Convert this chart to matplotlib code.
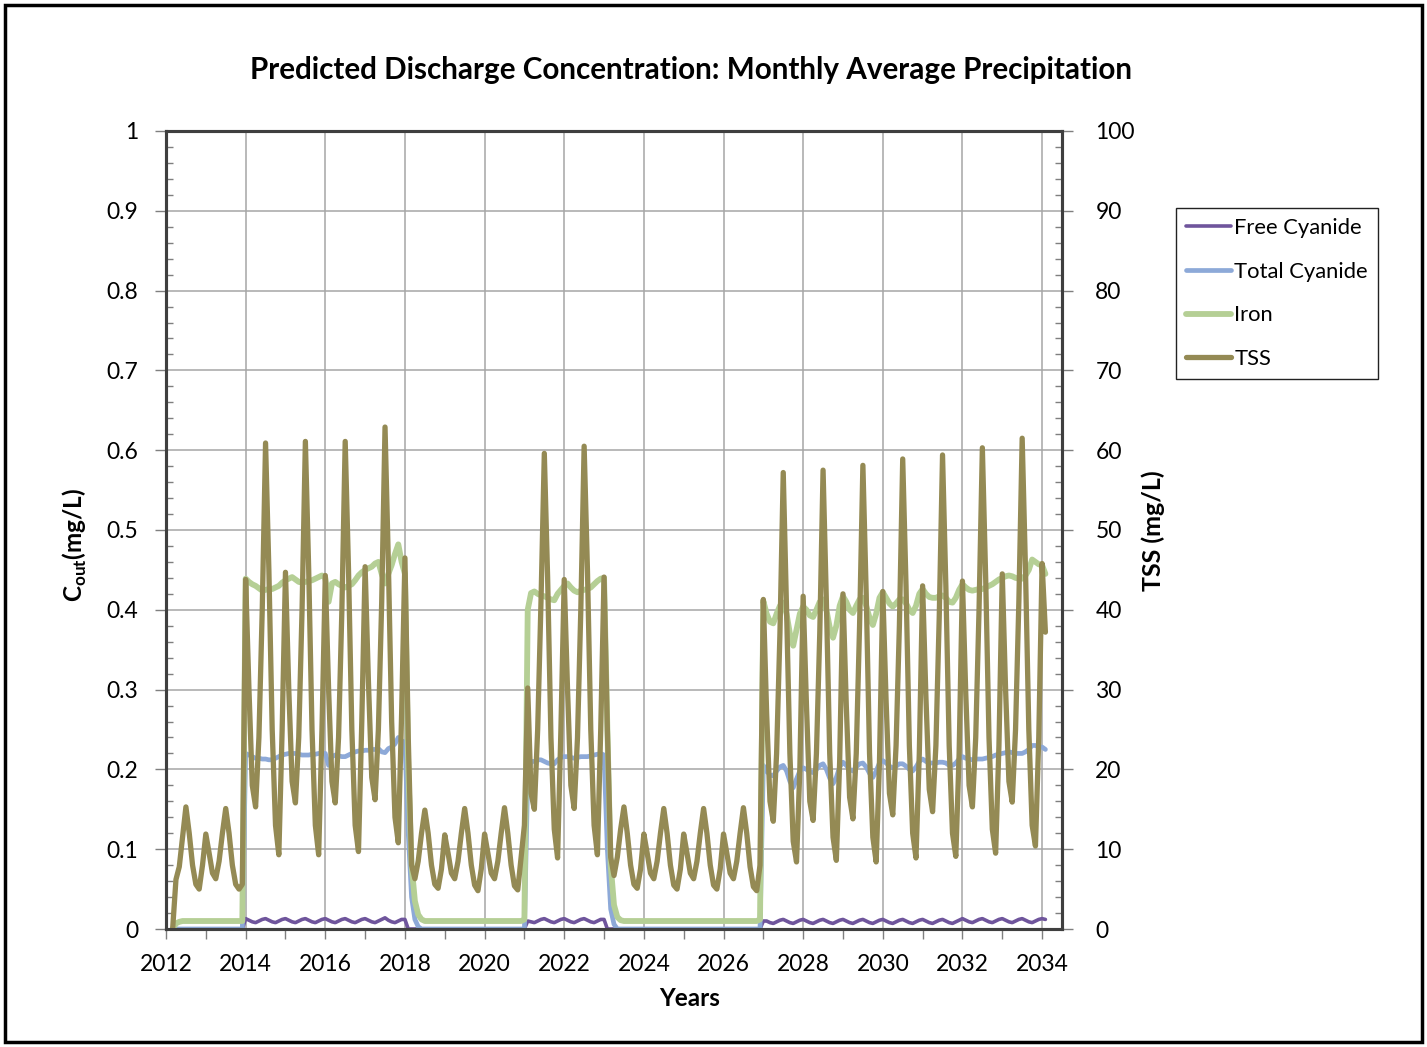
import pandas as pd
import matplotlib
matplotlib.use("Agg")
import matplotlib.pyplot as plt
from matplotlib.patches import Rectangle
from matplotlib.ticker import MultipleLocator, FormatStrFormatter

# Monthly model output, first value is March 2012
START_MONTH = "2012-03-01"

# TSS (mg/L), secondary axis
tss = [
    0.0, 6.2, 7.8, 11.5, 15.3, 12.0, 8.0, 5.6, 5.0, 8.0,                    # 2012 (Mar-Dec)
    11.9, 9.5, 7.0, 6.3, 8.5, 12.0, 15.1, 12.0, 8.0, 5.6, 5.0, 5.6,         # 2013
    43.8, 30.0, 18.0, 15.3, 24.0, 40.0, 60.9, 45.0, 25.0, 13.0, 9.3, 25.0,  # 2014
    44.7, 30.0, 18.5, 15.8, 24.0, 40.0, 61.1, 45.0, 25.0, 13.0, 9.3, 25.0,  # 2015
    44.3, 30.0, 18.5, 15.8, 24.0, 40.0, 61.1, 45.0, 25.0, 13.0, 9.7, 26.0,  # 2016
    45.4, 31.0, 19.0, 16.2, 25.0, 41.0, 62.9, 46.0, 26.0, 14.0, 10.8, 27.0, # 2017
    46.5, 24.0, 8.0, 6.3, 8.5, 12.0, 14.9, 12.0, 8.0, 5.6, 5.1, 7.5,        # 2018
    11.8, 9.5, 7.0, 6.3, 8.5, 12.0, 15.1, 12.0, 8.0, 5.5, 4.8, 7.5,         # 2019
    11.9, 9.5, 7.0, 6.3, 8.5, 12.0, 15.2, 12.0, 8.0, 5.4, 4.9, 9.0,         # 2020
    13.0, 30.2, 17.0, 15.0, 25.0, 41.0, 59.6, 44.0, 24.0, 12.5, 8.9, 25.0,  # 2021
    43.8, 30.0, 18.0, 15.1, 24.0, 40.0, 60.5, 45.0, 25.0, 13.0, 9.3, 25.0,  # 2022
    44.1, 25.0, 9.0, 6.7, 9.0, 12.5, 15.3, 12.0, 8.0, 5.6, 5.1, 7.5,        # 2023
    11.9, 9.5, 7.0, 6.3, 8.5, 12.0, 15.1, 12.0, 8.0, 5.5, 5.0, 7.5,         # 2024
    11.9, 9.5, 7.0, 6.3, 8.5, 12.0, 15.1, 12.0, 8.0, 5.5, 5.0, 7.5,         # 2025
    11.9, 9.5, 7.0, 6.3, 8.5, 12.0, 15.2, 12.0, 7.8, 5.3, 4.8, 8.0,         # 2026
    41.3, 27.0, 16.0, 13.5, 22.0, 37.0, 57.2, 40.0, 22.0, 11.0, 8.4, 20.0,  # 2027
    41.7, 28.0, 16.0, 13.6, 22.0, 37.0, 57.5, 41.0, 22.0, 11.5, 8.6, 21.0,  # 2028
    42.0, 28.0, 16.5, 13.8, 22.0, 38.0, 58.1, 42.0, 22.0, 11.5, 8.4, 21.0,  # 2029
    42.3, 28.5, 17.0, 14.3, 23.0, 38.0, 58.9, 43.0, 23.0, 12.0, 8.9, 22.0,  # 2030
    43.0, 29.0, 17.5, 14.7, 23.0, 39.0, 59.4, 43.0, 23.0, 12.0, 9.1, 22.0,  # 2031
    43.6, 29.5, 18.0, 15.3, 24.0, 40.0, 60.3, 44.0, 24.0, 12.5, 9.5, 23.0,  # 2032
    44.5, 30.0, 18.5, 15.9, 25.0, 41.0, 61.5, 45.0, 25.0, 13.0, 10.4, 24.0, # 2033
    45.8, 37.2,                                                             # 2034 (Jan-Feb)
]

# Iron (mg/L), primary axis
iron = [
    0.000, 0.007, 0.009, 0.010, 0.010, 0.010, 0.010, 0.010, 0.010, 0.010,                # 2012
    0.010, 0.010, 0.010, 0.010, 0.010, 0.010, 0.010, 0.010, 0.010, 0.010, 0.010, 0.010,  # 2013
    0.439, 0.435, 0.432, 0.430, 0.427, 0.424, 0.425, 0.426, 0.426, 0.428, 0.430, 0.434,  # 2014
    0.437, 0.439, 0.441, 0.438, 0.435, 0.434, 0.435, 0.436, 0.437, 0.439, 0.441, 0.443,  # 2015
    0.440, 0.410, 0.433, 0.435, 0.432, 0.430, 0.428, 0.430, 0.432, 0.437, 0.443, 0.447,  # 2016
    0.450, 0.452, 0.454, 0.458, 0.460, 0.445, 0.433, 0.445, 0.456, 0.470, 0.482, 0.460,  # 2017
    0.445, 0.200, 0.080, 0.035, 0.018, 0.012, 0.010, 0.010, 0.010, 0.010, 0.010, 0.010,  # 2018
    0.010, 0.010, 0.010, 0.010, 0.010, 0.010, 0.010, 0.010, 0.010, 0.010, 0.010, 0.010,  # 2019
    0.010, 0.010, 0.010, 0.010, 0.010, 0.010, 0.010, 0.010, 0.010, 0.010, 0.010, 0.010,  # 2020
    0.012, 0.400, 0.421, 0.423, 0.420, 0.418, 0.417, 0.415, 0.413, 0.412, 0.420, 0.425,  # 2021
    0.430, 0.433, 0.428, 0.424, 0.422, 0.424, 0.425, 0.426, 0.428, 0.432, 0.436, 0.439,  # 2022
    0.440, 0.250, 0.080, 0.030, 0.015, 0.011, 0.010, 0.010, 0.010, 0.010, 0.010, 0.010,  # 2023
    0.010, 0.010, 0.010, 0.010, 0.010, 0.010, 0.010, 0.010, 0.010, 0.010, 0.010, 0.010,  # 2024
    0.010, 0.010, 0.010, 0.010, 0.010, 0.010, 0.010, 0.010, 0.010, 0.010, 0.010, 0.010,  # 2025
    0.010, 0.010, 0.010, 0.010, 0.010, 0.010, 0.010, 0.010, 0.010, 0.010, 0.010, 0.012,  # 2026
    0.411, 0.395, 0.385, 0.383, 0.395, 0.405, 0.409, 0.395, 0.370, 0.355, 0.375, 0.395,  # 2027
    0.404, 0.400, 0.393, 0.391, 0.400, 0.410, 0.413, 0.400, 0.378, 0.365, 0.380, 0.405,  # 2028
    0.417, 0.410, 0.400, 0.396, 0.405, 0.413, 0.415, 0.405, 0.390, 0.381, 0.395, 0.415,  # 2029
    0.422, 0.415, 0.408, 0.404, 0.408, 0.413, 0.413, 0.408, 0.400, 0.396, 0.405, 0.420,  # 2030
    0.426, 0.420, 0.416, 0.415, 0.415, 0.417, 0.418, 0.415, 0.410, 0.409, 0.415, 0.425,  # 2031
    0.432, 0.428, 0.425, 0.424, 0.425, 0.426, 0.426, 0.428, 0.430, 0.432, 0.435, 0.438,  # 2032
    0.440, 0.442, 0.443, 0.442, 0.440, 0.439, 0.439, 0.443, 0.450, 0.463, 0.460, 0.457,  # 2033
    0.456, 0.445,                                                                        # 2034
]

# Total cyanide (mg/L), primary axis
total_cyanide = [
    0.0, 0.0, 0.0, 0.0, 0.0, 0.0, 0.0, 0.0, 0.0, 0.0,                                    # 2012
    0.0, 0.0, 0.0, 0.0, 0.0, 0.0, 0.0, 0.0, 0.0, 0.0, 0.0, 0.0,                          # 2013
    0.220, 0.218, 0.216, 0.214, 0.214, 0.213, 0.213, 0.212, 0.212, 0.214, 0.216, 0.218,  # 2014
    0.219, 0.220, 0.220, 0.220, 0.219, 0.218, 0.218, 0.218, 0.219, 0.219, 0.220, 0.220,  # 2015
    0.220, 0.205, 0.216, 0.218, 0.217, 0.216, 0.216, 0.218, 0.220, 0.222, 0.223, 0.223,  # 2016
    0.224, 0.224, 0.225, 0.225, 0.226, 0.222, 0.221, 0.226, 0.228, 0.232, 0.240, 0.236,  # 2017
    0.234, 0.120, 0.040, 0.012, 0.003, 0.0, 0.0, 0.0, 0.0, 0.0, 0.0, 0.0,                # 2018
    0.0, 0.0, 0.0, 0.0, 0.0, 0.0, 0.0, 0.0, 0.0, 0.0, 0.0, 0.0,                          # 2019
    0.0, 0.0, 0.0, 0.0, 0.0, 0.0, 0.0, 0.0, 0.0, 0.0, 0.0, 0.0,                          # 2020
    0.0, 0.190, 0.210, 0.210, 0.212, 0.212, 0.210, 0.208, 0.207, 0.207, 0.212, 0.215,    # 2021
    0.216, 0.216, 0.215, 0.214, 0.215, 0.216, 0.216, 0.216, 0.217, 0.218, 0.219, 0.220,  # 2022
    0.218, 0.100, 0.025, 0.006, 0.0, 0.0, 0.0, 0.0, 0.0, 0.0, 0.0, 0.0,                  # 2023
    0.0, 0.0, 0.0, 0.0, 0.0, 0.0, 0.0, 0.0, 0.0, 0.0, 0.0, 0.0,                          # 2024
    0.0, 0.0, 0.0, 0.0, 0.0, 0.0, 0.0, 0.0, 0.0, 0.0, 0.0, 0.0,                          # 2025
    0.0, 0.0, 0.0, 0.0, 0.0, 0.0, 0.0, 0.0, 0.0, 0.0, 0.0, 0.0,                          # 2026
    0.205, 0.198, 0.193, 0.192, 0.198, 0.203, 0.205, 0.198, 0.185, 0.177, 0.188, 0.198,  # 2027
    0.202, 0.200, 0.197, 0.196, 0.200, 0.205, 0.207, 0.200, 0.189, 0.182, 0.190, 0.203,  # 2028
    0.209, 0.205, 0.200, 0.198, 0.203, 0.207, 0.208, 0.203, 0.195, 0.190, 0.198, 0.208,  # 2029
    0.211, 0.208, 0.204, 0.202, 0.204, 0.207, 0.207, 0.204, 0.200, 0.198, 0.203, 0.210,  # 2030
    0.213, 0.210, 0.208, 0.208, 0.208, 0.209, 0.209, 0.208, 0.205, 0.205, 0.208, 0.213,  # 2031
    0.216, 0.214, 0.213, 0.212, 0.213, 0.213, 0.213, 0.214, 0.215, 0.216, 0.218, 0.219,  # 2032
    0.220, 0.221, 0.222, 0.221, 0.220, 0.220, 0.220, 0.222, 0.225, 0.230, 0.230, 0.228,  # 2033
    0.228, 0.225,                                                                        # 2034
]

# Free cyanide (mg/L), primary axis
free_cyanide = [
    0.0, 0.0, 0.0, 0.0, 0.0, 0.0, 0.0, 0.0, 0.0, 0.0,                                    # 2012
    0.0, 0.0, 0.0, 0.0, 0.0, 0.0, 0.0, 0.0, 0.0, 0.0, 0.0, 0.0,                          # 2013
    0.013, 0.011, 0.009, 0.008, 0.010, 0.012, 0.013, 0.011, 0.009, 0.008, 0.010, 0.012,  # 2014
    0.013, 0.011, 0.009, 0.008, 0.010, 0.012, 0.013, 0.011, 0.009, 0.008, 0.010, 0.012,  # 2015
    0.013, 0.011, 0.009, 0.008, 0.010, 0.012, 0.013, 0.011, 0.009, 0.008, 0.010, 0.012,  # 2016
    0.013, 0.011, 0.009, 0.008, 0.010, 0.012, 0.014, 0.011, 0.009, 0.008, 0.010, 0.012,  # 2017
    0.012, 0.0, 0.0, 0.0, 0.0, 0.0, 0.0, 0.0, 0.0, 0.0, 0.0, 0.0,                        # 2018
    0.0, 0.0, 0.0, 0.0, 0.0, 0.0, 0.0, 0.0, 0.0, 0.0, 0.0, 0.0,                          # 2019
    0.0, 0.0, 0.0, 0.0, 0.0, 0.0, 0.0, 0.0, 0.0, 0.0, 0.0, 0.0,                          # 2020
    0.0, 0.010, 0.009, 0.008, 0.010, 0.012, 0.013, 0.011, 0.009, 0.008, 0.010, 0.012,    # 2021
    0.013, 0.011, 0.009, 0.008, 0.010, 0.012, 0.013, 0.011, 0.009, 0.008, 0.010, 0.012,  # 2022
    0.012, 0.0, 0.0, 0.0, 0.0, 0.0, 0.0, 0.0, 0.0, 0.0, 0.0, 0.0,                        # 2023
    0.0, 0.0, 0.0, 0.0, 0.0, 0.0, 0.0, 0.0, 0.0, 0.0, 0.0, 0.0,                          # 2024
    0.0, 0.0, 0.0, 0.0, 0.0, 0.0, 0.0, 0.0, 0.0, 0.0, 0.0, 0.0,                          # 2025
    0.0, 0.0, 0.0, 0.0, 0.0, 0.0, 0.0, 0.0, 0.0, 0.0, 0.0, 0.0,                          # 2026
    0.010, 0.010, 0.008, 0.007, 0.009, 0.011, 0.012, 0.010, 0.008, 0.007, 0.009, 0.011,  # 2027
    0.012, 0.010, 0.008, 0.007, 0.009, 0.011, 0.012, 0.010, 0.008, 0.007, 0.009, 0.011,  # 2028
    0.012, 0.010, 0.008, 0.007, 0.009, 0.011, 0.012, 0.010, 0.008, 0.007, 0.009, 0.011,  # 2029
    0.012, 0.010, 0.008, 0.007, 0.009, 0.011, 0.012, 0.010, 0.008, 0.007, 0.009, 0.011,  # 2030
    0.012, 0.010, 0.008, 0.007, 0.009, 0.011, 0.012, 0.010, 0.008, 0.007, 0.009, 0.011,  # 2031
    0.013, 0.011, 0.009, 0.008, 0.010, 0.012, 0.013, 0.011, 0.009, 0.008, 0.010, 0.012,  # 2032
    0.013, 0.011, 0.009, 0.008, 0.010, 0.012, 0.013, 0.011, 0.009, 0.008, 0.010, 0.012,  # 2033
    0.013, 0.012,                                                                        # 2034
]

series_labels = ["Free Cyanide", "Total Cyanide", "Iron", "TSS"]
series_colors = ["#6F559C", "#8DA9D8", "#B5CF95", "#948A54"]
series_widths = [2.6, 3.4, 4.2, 3.8]

title = "Predicted Discharge Concentration: Monthly Average Precipitation"

# decimal-year positions of the monthly values
dates = pd.date_range(START_MONTH, periods=len(tss), freq="MS")
years = dates.year + (dates.month - 1) / 12.0

plt.rcParams["font.family"] = ["Lato", "DejaVu Sans"]
plt.rcParams["mathtext.fontset"] = "custom"
plt.rcParams["mathtext.rm"] = "Lato"
plt.rcParams["mathtext.bf"] = "Lato:bold"

W, H = 1427, 1047
fig = plt.figure(figsize=(W / 100, H / 100), dpi=100)
fig.patch.set_facecolor("white")

L, R, T, B = 166, 1062, 131, 929
ax = fig.add_axes([L / W, 1 - B / H, (R - L) / W, (B - T) / H])
ax2 = ax.twinx()

primary = [free_cyanide, total_cyanide, iron]
handles = []
for vals, lab, col, lw in zip(primary, series_labels[:3], series_colors[:3], series_widths[:3]):
    ln, = ax.plot(years, vals, color=col, lw=lw, solid_joinstyle="round", solid_capstyle="round", label=lab)
    handles.append(ln)
ln, = ax2.plot(years, tss, color=series_colors[3], lw=series_widths[3],
               solid_joinstyle="round", solid_capstyle="round", label=series_labels[3])
handles.append(ln)

# axes ranges and ticks
ax.set_xlim(2012, 2034.5)
ax.set_ylim(0, 1)
ax2.set_ylim(0, 100)
ax.xaxis.set_major_locator(MultipleLocator(2))
ax.xaxis.set_minor_locator(MultipleLocator(1))
ax.yaxis.set_major_locator(MultipleLocator(0.1))
ax.yaxis.set_minor_locator(MultipleLocator(0.02))
ax.yaxis.set_major_formatter(FormatStrFormatter("%g"))
ax.xaxis.set_major_formatter(FormatStrFormatter("%d"))
ax2.yaxis.set_major_locator(MultipleLocator(10))
ax2.yaxis.set_minor_locator(MultipleLocator(2))
ax2.yaxis.set_major_formatter(FormatStrFormatter("%d"))

tick_col = "#7f7f7f"
ax.tick_params(axis="x", which="both", direction="out", length=7, width=1.0, color=tick_col,
               labelsize=16.5, pad=11)
ax.tick_params(axis="y", which="major", direction="out", length=8, width=1.0, color=tick_col,
               labelsize=16.5, pad=12)
ax.tick_params(axis="y", which="minor", direction="in", length=5, width=1.0, color=tick_col)
ax2.tick_params(axis="y", which="major", direction="out", length=8, width=1.0, color=tick_col,
                labelsize=16.5, pad=16)
ax2.tick_params(axis="y", which="minor", direction="in", length=5, width=1.0, color=tick_col)

ax.grid(True, which="major", axis="both", color="#a6a6a6", lw=1.1)
ax.set_axisbelow(True)

for a in (ax, ax2):
    for s in a.spines.values():
        s.set_color("#3f3f3f")
        s.set_linewidth(2.2)

# titles and axis labels
fig.text(691 / W, 1 - 70 / H, title, ha="center", va="center", fontsize=21.3, fontweight="bold")
fig.text(690 / W, 1 - 998 / H, "Years", ha="center", va="center", fontsize=17.5, fontweight="bold")
fig.text(75 / W, 1 - 545 / H, r"C$_{\mathbf{out}}$(mg/L)", rotation=90, ha="center", va="center",
         fontsize=17.5, fontweight="bold")
fig.text(1153 / W, 1 - 531 / H, "TSS (mg/L)", rotation=90, ha="center", va="center",
         fontsize=18, fontweight="bold")

leg = fig.legend(handles, series_labels, loc="upper left",
                 bbox_to_anchor=(1176 / W, 1 - 208 / H), borderaxespad=0.0,
                 frameon=True, fancybox=False, framealpha=1, edgecolor="#222222",
                 fontsize=15.8, handlelength=2.05, handletextpad=0.15, labelspacing=1.08,
                 borderpad=0.45)
leg.get_frame().set_linewidth(1.0)

# outer frame of the figure
fig.add_artist(Rectangle((5 / W, 5 / H), (W - 10) / W, (H - 10) / H, transform=fig.transFigure,
                         fill=False, edgecolor="black", lw=2.5))

fig.savefig("out.png", dpi=100, facecolor="white")
